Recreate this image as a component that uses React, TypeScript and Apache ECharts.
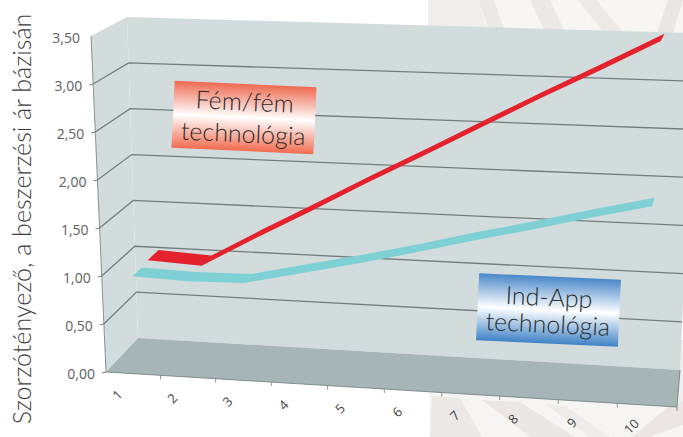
import React, { useEffect, useRef } from "react";
import * as echarts from "echarts";

const categories = [1, 2, 3, 4, 5, 6, 7, 8, 9, 10];
const redValues = [1.0, 0.97, 1.29, 1.6, 1.92, 2.23, 2.55, 2.87, 3.18, 3.5];
const tealValues = [0.98, 0.96, 0.97, 1.1, 1.23, 1.37, 1.52, 1.66, 1.81, 1.95];
const yTicks = [0, 0.5, 1, 1.5, 2, 2.5, 3, 3.5];
const yTitle = "Szorzótényező, a beszerzési ár bázisán";

const W = 683;
const H = 437;
type P = number[];
const FLB: P = [106, 372], FLT: P = [91, 36], BLB: P = [138, 338], BLT: P = [127, 17];
const FRB: P = [677, 407], FRT: P = [686, 54], BRB: P = [680, 370], BRT: P = [695, 33];

const mix = (a: P, b: P, t: number): P => [a[0] + (b[0] - a[0]) * t, a[1] + (b[1] - a[1]) * t];

function warp(api: any, x: number, val: number, depth: number): P {
  const c = api.coord([x, val]);
  const u0 = c[0] / W;
  const v = 1 - c[1] / H;
  const u = u0 - 0.05 * u0 * (1 - u0);
  const bottom = mix(mix(FLB, FRB, u), mix(BLB, BRB, u), depth);
  const top = mix(mix(FLT, FRT, u), mix(BLT, BRT, u), depth);
  return mix(bottom, top, v);
}

const XMIN = 0.5;
const XMAX = 10.5;
const YMAX = 3.5;
const LINE = "#727e7e";
const FONT = "'Open Sans', sans-serif";

function ribbon(values: number[], w0: number, w1: number, color: string) {
  return {
    type: "custom",
    coordinateSystem: "cartesian2d",
    silent: true,
    data: categories.map((c, i) => [c, values[i]]),
    renderItem: (params: any, api: any) => {
      if (params.dataIndex !== 0) return null;
      const front = categories.map((c, i) => warp(api, c, values[i], w0));
      const back = categories.map((c, i) => warp(api, c, values[i], w1));
      return {
        type: "polygon",
        shape: { points: [...front, ...back.reverse()] },
        style: { fill: color },
      };
    },
  };
}

function stripe(points: number[][], fill: string) {
  return { type: "polygon", shape: { points }, style: { fill }, silent: true };
}

const backdrop = [
  stripe([[428, 0], [683, 0], [683, 40], [428, 30]], "#f7f6f5"),
  stripe([[428, 0], [478, 0], [486, 30], [428, 30]], "#f0eeed"),
  stripe([[478, 0], [494, 0], [505, 32], [490, 32]], "#ebe8e6"),
  stripe([[530, 0], [550, 0], [566, 34], [546, 34]], "#ebe8e6"),
  stripe([[578, 0], [596, 0], [626, 36], [606, 36]], "#ece9e7"),
  stripe([[683, 0], [668, 0], [656, 36], [672, 36]], "#e9e6e3"),
  stripe([[430, 392], [683, 405], [683, 437], [430, 437]], "#f7f5f4"),
  stripe([[432, 396], [460, 398], [482, 437], [430, 437]], "#ebe8e6"),
  stripe([[482, 400], [520, 402], [575, 437], [530, 437]], "#ebe7e5"),
  stripe([[545, 404], [565, 406], [610, 437], [590, 437]], "#efebe9"),
  stripe([[683, 395], [683, 425], [650, 437], [632, 437]], "#ebe6e3"),
  stripe([[680, 340], [683, 340], [683, 400], [678, 405]], "#f0eeed"),
];

function noteBox(cx: number, cy: number, rot: number, grad: string[], line1: string, dy1: number, dy2: number) {
  return {
    type: "group",
    x: cx,
    y: cy,
    rotation: rot,
    silent: true,
    children: [
      {
        type: "rect",
        z: 50,
        shape: { x: -71, y: -33.5, width: 142, height: 67 },
        style: {
          fill: new echarts.graphic.LinearGradient(0, 0, 0, 1, [
            { offset: 0, color: grad[0] },
            { offset: 0.5, color: "#ffffff" },
            { offset: 1, color: grad[1] },
          ]),
        },
      },
      {
        type: "text",
        z: 51,
        x: 0,
        y: dy1,
        style: { text: line1, align: "center", verticalAlign: "middle", fontFamily: "Lato, sans-serif", fontWeight: 300, fontSize: 25, fill: "#2b2b2b" },
      },
      {
        type: "text",
        z: 51,
        x: 0,
        y: dy2,
        style: { text: "technológia", align: "center", verticalAlign: "middle", fontFamily: "Lato, sans-serif", fontWeight: 300, fontSize: 25, fill: "#2b2b2b" },
      },
    ],
  };
}

export default function App() {
  const ref = useRef<HTMLDivElement>(null);
  useEffect(() => {
    const chart = echarts.init(ref.current!, undefined, { renderer: "svg" });
    chart.setOption({
      animation: false,
      backgroundColor: "#ffffff",
      grid: { left: 0, right: 0, top: 0, bottom: 0 },
      xAxis: { type: "value", min: XMIN, max: XMAX, show: false },
      yAxis: { type: "value", min: 0, max: YMAX, show: false },
      graphic: [
        ...backdrop,
        {
          type: "text",
          x: 21,
          y: 219,
          rotation: Math.PI / 2,
          silent: true,
          style: { text: yTitle, align: "center", verticalAlign: "middle", fontFamily: "Lato, sans-serif", fontWeight: 300, fontSize: 25, fill: "#3d3d3d" },
        },
        noteBox(244, 117.5, -0.047, ["#ee6a50", "#f26b50"], "Fém/fém", -17, 15),
        noteBox(548.5, 310, -0.047, ["#4a88c9", "#3f83c6"], "Ind-App", -14, 13),
      ],
      series: [
        {
          type: "custom",
          coordinateSystem: "cartesian2d",
          silent: true,
          data: [[XMIN, 0]],
          renderItem: (_p: any, api: any) => {
            const flb = warp(api, XMIN, 0, 0), flt = warp(api, XMIN, YMAX, 0);
            const blb = warp(api, XMIN, 0, 1), blt = warp(api, XMIN, YMAX, 1);
            const frb = warp(api, XMAX, 0, 0);
            const brb = warp(api, XMAX, 0, 1), brt = warp(api, XMAX, YMAX, 1);
            return {
              type: "group",
              children: [
                { type: "polygon", shape: { points: [flt, blt, blb, flb] }, style: { fill: "#d2dcdd" } },
                { type: "polygon", shape: { points: [blt, brt, brb, blb] }, style: { fill: "#d3dcdd" } },
                { type: "polygon", shape: { points: [flb, blb, brb, frb] }, style: { fill: "#a6b5b5" } },
                { type: "polyline", shape: { points: [flt, flb, frb, brb] }, style: { fill: "none", stroke: "#6f7b7b", lineWidth: 0.8 } },
              ],
            };
          },
        },
        {
          type: "custom",
          coordinateSystem: "cartesian2d",
          silent: true,
          data: yTicks.map((v) => [XMIN, v]),
          renderItem: (_p: any, api: any) => {
            const v = api.value(1) as number;
            const a = warp(api, XMIN, v, 0);
            const b = warp(api, XMIN, v, 1);
            const c = warp(api, XMAX, v, 1);
            const children: any[] = [
              {
                type: "text",
                x: a[0] - 11,
                y: a[1] + 1,
                style: { text: v.toFixed(2).replace(".", ","), align: "right", verticalAlign: "middle", fontFamily: FONT, fontSize: 14, fill: "#5e5e5e" },
              },
            ];
            if (v < YMAX) {
              children.push({ type: "line", shape: { x1: a[0] - 4, y1: a[1] + 1, x2: a[0], y2: a[1] }, style: { stroke: LINE, lineWidth: 1 } });
            }
            if (v > 0 && v < YMAX) {
              children.push({ type: "polyline", shape: { points: [a, b, c] }, style: { fill: "none", stroke: LINE, lineWidth: 1.3 } });
            }
            return { type: "group", children };
          },
        },
        {
          type: "custom",
          coordinateSystem: "cartesian2d",
          silent: true,
          data: categories.map((c) => [c, 0]),
          renderItem: (_p: any, api: any) => {
            const c = api.value(0) as number;
            const p = warp(api, c, 0, 0);
            const t = warp(api, c + 0.5, 0, 0);
            return {
              type: "group",
              children: [
                { type: "line", shape: { x1: t[0], y1: t[1], x2: t[0], y2: t[1] + 4 }, style: { stroke: LINE, lineWidth: 0.8 } },
                {
                  type: "text",
                  x: p[0] - 16,
                  y: p[1] + 21,
                  rotation: Math.PI / 4,
                  style: { text: String(c), align: "center", verticalAlign: "middle", fontFamily: FONT, fontSize: 13, fill: "#444444" },
                },
              ],
            };
          },
        },
        ribbon(tealValues, 0.1, 0.4, "#7fd0d5"),
        ribbon(redValues, 0.58, 0.92, "#e4222e"),
      ],
    });
    return () => chart.dispose();
  }, []);
  return <div ref={ref} style={{ position: "fixed", left: 0, top: 0, width: W, height: H }} />;
}
